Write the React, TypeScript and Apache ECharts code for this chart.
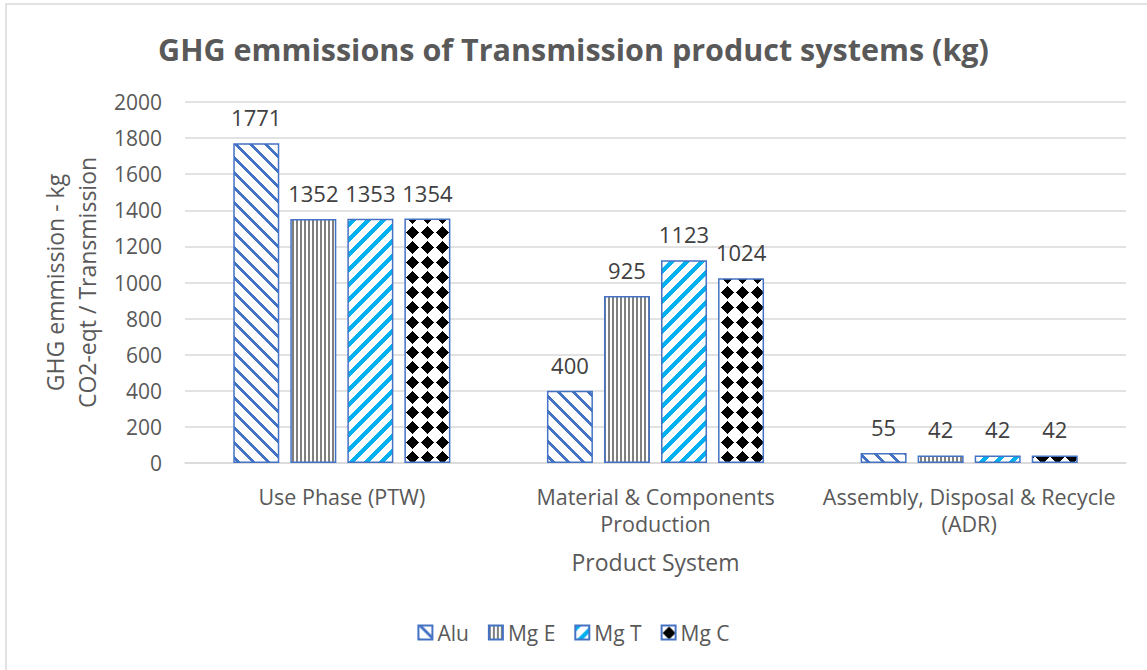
import React, { useEffect, useRef } from "react";
import * as echarts from "echarts";

const categories = ["Use Phase (PTW)", "Material & Components\nProduction", "Assembly, Disposal & Recycle\n(ADR)"];
const seriesNames = ["Alu", "Mg E", "Mg T", "Mg C"];
const aluValues = [1771, 400, 55];
const mgEValues = [1352, 925, 42];
const mgTValues = [1353, 1123, 42];
const mgCValues = [1354, 1024, 42];
const yTicks = { min: 0, max: 2000, interval: 200 };

function makeTile(size: number, fg: string, test: (x: number, y: number) => boolean) {
  const c = document.createElement("canvas");
  c.width = size;
  c.height = size;
  const ctx = c.getContext("2d")!;
  ctx.fillStyle = "#ffffff";
  ctx.fillRect(0, 0, size, size);
  ctx.fillStyle = fg;
  for (let y = 0; y < size; y++) {
    for (let x = 0; x < size; x++) {
      if (test(x, y)) ctx.fillRect(x, y, 1, 1);
    }
  }
  return c;
}

export default function App() {
  const ref = useRef<HTMLDivElement>(null);
  useEffect(() => {
    if (!ref.current) return;
    const chart = echarts.init(ref.current, undefined, { renderer: "svg" });
    const N = 15;
    const aluTile = makeTile(N, "#4472C4", (x, y) => (((x - y) % N) + N) % N < 4);
    const mgETile = makeTile(4, "#808080", (x) => x % 4 < 2);
    const mgTTile = makeTile(N, "#00B0F0", (x, y) => (x + y) % N < 6);
    const mgCTile = makeTile(N, "#000000", (x, y) => {
      const dx = Math.abs(x - 7);
      const dy = Math.abs(y - 7);
      return dx + dy <= 6;
    });
    const tiles = [aluTile, mgETile, mgTTile, mgCTile];
    const values = [aluValues, mgEValues, mgTValues, mgCValues];
    const font = "'Open Sans', sans-serif";

    chart.setOption({
      animation: false,
      backgroundColor: "#ffffff",
      textStyle: { fontFamily: font },
      title: {
        text: "GHG emmissions of Transmission product systems (kg)",
        left: "center",
        top: 28,
        textStyle: { fontSize: 30.5, fontWeight: "bold", color: "#595959", fontFamily: font },
      },
      graphic: [
        {
          type: "rect",
          shape: { x: 6, y: 4, width: 1300, height: 800 },
          style: { fill: "none", stroke: "#D9D9D9", lineWidth: 1.5 },
          silent: true,
        },
      ],
      legend: {
        bottom: 22,
        left: "center",
        itemWidth: 14,
        itemHeight: 14,
        itemGap: 19,
        icon: "rect",
        textStyle: { fontSize: 21, color: "#595959", fontFamily: font, padding: [0, 0, 0, 0] },
        data: seriesNames,
      },
      grid: { left: 185, right: 21, top: 102, bottom: 207 },
      xAxis: {
        type: "category",
        data: categories,
        name: "Product System",
        nameLocation: "middle",
        nameGap: 87,
        nameTextStyle: { fontSize: 23, color: "#595959", fontFamily: font },
        axisLine: { lineStyle: { color: "#D9D9D9", width: 1.5 } },
        axisTick: { show: false },
        axisLabel: {
          interval: 0,
          hideOverlap: false,
          fontSize: 21.5,
          color: "#595959",
          lineHeight: 27,
          margin: 20,
          fontFamily: font,
        },
      },
      yAxis: {
        type: "value",
        min: yTicks.min,
        max: yTicks.max,
        interval: yTicks.interval,
        name: "GHG emmission - kg\nCO2-eqt / Transmission",
        nameLocation: "middle",
        nameGap: 80,
        nameTextStyle: { fontSize: 23, color: "#595959", lineHeight: 32, fontFamily: font },
        axisLine: { show: false },
        axisTick: { show: false },
        axisLabel: {
          fontSize: 21,
          color: "#595959",
          margin: 23,
          fontFamily: font,
          formatter: (v: number) => String(v),
        },
        splitLine: { lineStyle: { color: "#D9D9D9", width: 1.5 } },
      },
      series: seriesNames.map((name, i) => ({
        name,
        type: "bar",
        data: values[i],
        barWidth: 46,
        barGap: "24%",
        itemStyle: {
          color: { image: tiles[i], repeat: "repeat" },
          borderColor: "#4472C4",
          borderWidth: 1.5,
        },
        label: {
          show: true,
          position: "top",
          distance: 15,
          fontSize: 22,
          color: "#404040",
          fontFamily: font,
        },
      })),
    });
    return () => chart.dispose();
  }, []);
  return <div ref={ref} style={{ position: "fixed", left: 0, top: 0, width: 1147, height: 670 }} />;
}
